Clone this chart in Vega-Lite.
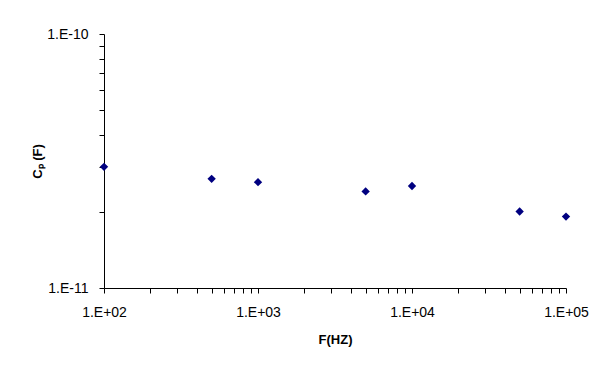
{
  "$schema": "https://vega.github.io/schema/vega-lite/v6.json",
  "width": 462,
  "height": 254,
  "autosize": {"type": "none"},
  "padding": {"left": 104, "top": 34, "right": 30, "bottom": 79},
  "background": "white",
  "config": {"view": {"stroke": null}, "font": "Liberation Sans"},
  "data": {
    "values": [
      {"f": 100, "cp": 3.0e-11},
      {"f": 500, "cp": 2.69e-11},
      {"f": 1000, "cp": 2.61e-11},
      {"f": 5000, "cp": 2.40e-11},
      {"f": 10000, "cp": 2.52e-11},
      {"f": 50000, "cp": 2.0e-11},
      {"f": 100000, "cp": 1.91e-11}
    ]
  },
  "mark": {"type": "point", "shape": "diamond", "filled": true, "size": 70, "color": "#000080", "opacity": 1},
  "encoding": {
    "x": {
      "field": "f",
      "type": "quantitative",
      "scale": {"type": "log", "domain": [100, 100000]},
      "axis": {
        "values": [100, 200, 300, 400, 500, 600, 700, 800, 900, 1000, 2000, 3000, 4000, 5000, 6000, 7000, 8000, 9000, 10000, 20000, 30000, 40000, 50000, 60000, 70000, 80000, 90000, 100000],
        "labelExpr": "abs(log(datum.value)/LN10 - round(log(datum.value)/LN10)) < 0.001 ? '1.E+0' + round(log(datum.value)/LN10) : ''",
        "grid": false,
        "domainColor": "black",
        "tickColor": "black",
        "tickSize": 5,
        "labelFontSize": 14,
        "labelColor": "black",
        "labelPadding": 12,
        "labelOverlap": false,
        "labelFlush": false,
        "title": "F(HZ)",
        "titleFontSize": 13,
        "titleFontWeight": "bold",
        "titleColor": "black",
        "titlePadding": 14
      }
    },
    "y": {
      "field": "cp",
      "type": "quantitative",
      "scale": {"type": "log", "domain": [1e-11, 1e-10]},
      "axis": {
        "values": [1e-11, 2e-11, 3e-11, 4e-11, 5e-11, 6e-11, 7e-11, 8e-11, 9e-11, 1e-10],
        "labelExpr": "abs(log(datum.value)/LN10 - round(log(datum.value)/LN10)) < 0.001 ? '1.E' + round(log(datum.value)/LN10) : ''",
        "grid": false,
        "domainColor": "black",
        "tickColor": "black",
        "tickSize": 5,
        "labelFontSize": 14,
        "labelColor": "black",
        "labelPadding": 11,
        "labelOverlap": false,
        "labelFlush": false,
        "title": "Cₚ (F)",
        "titleFontSize": 13,
        "titleFontWeight": "bold",
        "titleColor": "black",
        "titlePadding": 2
      }
    }
  }
}
